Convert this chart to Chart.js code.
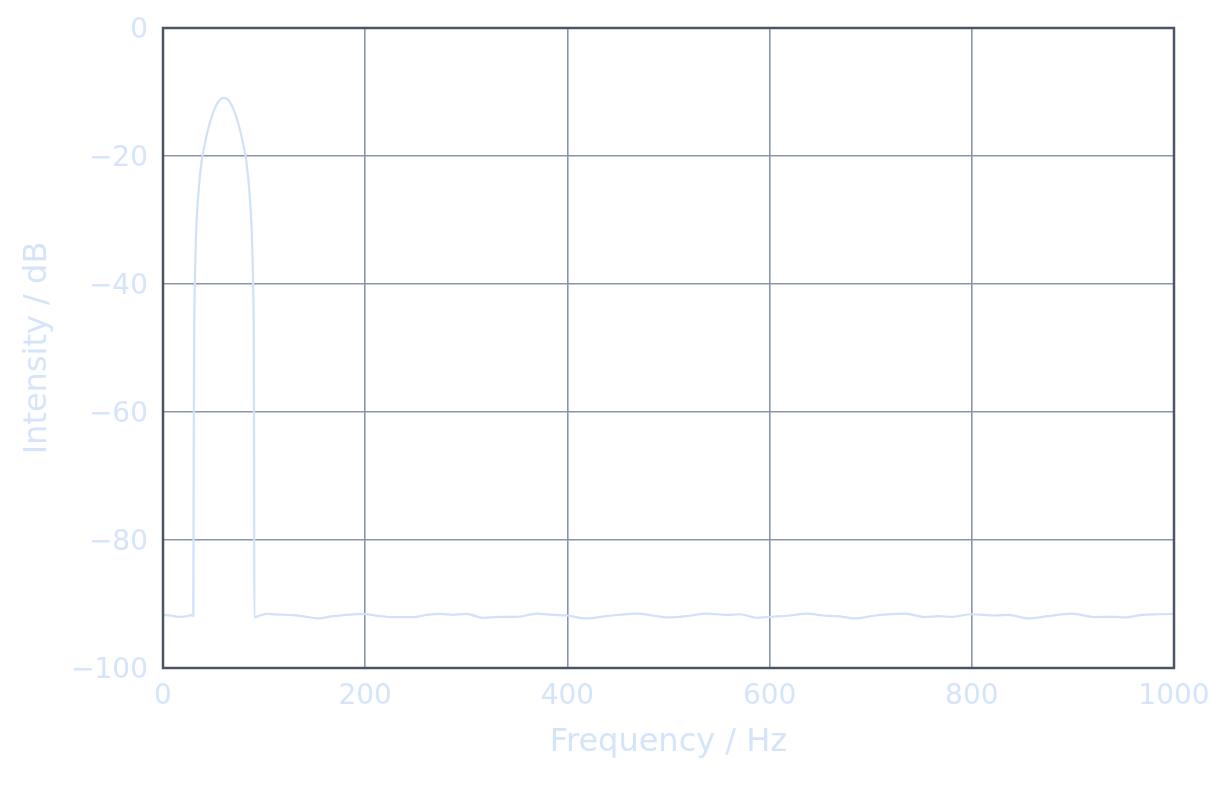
<!DOCTYPE html>
<html>
<head>
<meta charset="utf-8">
<script src="https://cdn.jsdelivr.net/npm/chart.js@4.4.1/dist/chart.umd.min.js"></script>
<style>
  html, body { margin: 0; padding: 0; background: #ffffff; }
  #wrap { width: 1210px; height: 800px; }
</style>
</head>
<body>
<div id="wrap"><canvas id="c" width="1210" height="800"></canvas></div>
<script>
// Frequency (Hz) and intensity (dB)
const freqHz = [
  0, 8, 15, 22, 29.8,
  30.0, 30.4, 30.8, 31.5, 32.8, 34.3, 36.3, 38.3, 40.3, 44.3, 48.3, 52.3, 56.3, 60.3,
  64.3, 68.3, 72.3, 76.3, 80.3, 82.3, 84.3, 86.3, 87.8, 89.1, 89.8, 90.1, 90.3,
  96, 102.5, 115.7, 128.9, 142, 153.6, 168.4, 181.7, 198, 214.6, 227.8,
  247.6, 260.8, 274, 287, 300, 316.6, 333, 349.9, 369.6, 386, 399.3,
  419, 438.9, 468.5, 488.3, 501.5, 518, 537.8, 557.6, 570.7, 587.2,
  600.4, 620.2, 636.7, 653.1, 666.4, 684.5, 704.3, 733.9, 753.7, 766.9,
  780, 799.9, 823, 836, 856, 875.7, 898.8, 921.9, 941.7, 951.5, 968,
  984.4, 1000
];
const intensityDb = [
  -91.7, -91.8, -92.0, -91.95, -91.7,
  -91.9, -65.9, -48.9, -39.9, -31.9, -27.4, -23.4, -20.7, -18.9, -16.0, -13.8, -12.2, -11.2, -10.9,
  -11.2, -12.2, -13.8, -16.0, -18.9, -20.7, -23.4, -27.4, -31.9, -39.9, -48.9, -65.9, -92.1,
  -91.8, -91.55, -91.65, -91.75, -92.0, -92.25, -91.9, -91.7, -91.55, -91.9, -92.05,
  -92.05, -91.7, -91.55, -91.7, -91.55, -92.15, -92.0, -92.0, -91.5, -91.7, -91.8,
  -92.25, -91.9, -91.5, -91.9, -92.1, -91.9, -91.5, -91.7, -91.6, -92.15,
  -92.0, -91.8, -91.5, -91.8, -91.9, -92.25, -91.8, -91.5, -92.05, -91.9,
  -92.0, -91.6, -91.8, -91.7, -92.25, -91.9, -91.5, -92.05, -92.0, -92.1, -91.7,
  -91.6, -91.55
];
const xTickValues = [0, 200, 400, 600, 800, 1000];
const yTickValues = [-100, -80, -60, -40, -20, 0];
const xAxisTitle = 'Frequency / Hz';
const yAxisTitle = 'Intensity / dB';

const textColor = '#d5e4f9';
const lineColor = '#d0e1f9';
const gridColor = '#8a95a6';
const frameColor = '#4b5566';
const fontFamily = "'DejaVu Sans', sans-serif";

const points = freqHz.map((f, i) => ({ x: f, y: intensityDb[i] }));
const fmt = v => (v < 0 ? '\u2212' + Math.abs(v) : String(v));

const framePlugin = {
  id: 'frame',
  afterDatasetsDraw(chart) {
    const { ctx, chartArea: a } = chart;
    ctx.save();
    ctx.strokeStyle = frameColor;
    ctx.lineWidth = 2.5;
    ctx.strokeRect(a.left, a.top, a.right - a.left, a.bottom - a.top);
    ctx.restore();
  }
};

new Chart(document.getElementById('c'), {
  type: 'line',
  data: {
    datasets: [{
      data: points,
      borderColor: lineColor,
      borderWidth: 2.2,
      pointRadius: 0,
      fill: false,
      cubicInterpolationMode: 'monotone'
    }]
  },
  options: {
    responsive: false,
    animation: false,
    devicePixelRatio: 1,
    layout: { padding: { left: 0, right: 36, top: 28, bottom: 0 } },
    plugins: { legend: { display: false }, tooltip: { enabled: false } },
    scales: {
      x: {
        type: 'linear',
        min: 0, max: 1000,
        afterFit(s) { s.height = 132; s.paddingLeft = 0; s.paddingRight = 0; },
        afterBuildTicks(s) { s.ticks = xTickValues.map(v => ({ value: v })); },
        grid: { color: gridColor, lineWidth: 1.6, drawTicks: false },
        border: { display: false },
        ticks: {
          color: textColor, padding: 12,
          font: { family: fontFamily, size: 28 },
          maxRotation: 0,
          callback: v => fmt(v)
        },
        title: {
          display: true, text: xAxisTitle, color: textColor,
          font: { family: fontFamily, size: 32, lineHeight: 1 },
          padding: { top: 0, bottom: 41 }
        }
      },
      y: {
        type: 'linear',
        min: -100, max: 0,
        afterFit(s) { s.width = 163; s.paddingTop = 0; s.paddingBottom = 0; },
        afterBuildTicks(s) { s.ticks = yTickValues.map(v => ({ value: v })); },
        grid: { color: gridColor, lineWidth: 1.6, drawTicks: false },
        border: { display: false },
        ticks: {
          color: textColor, padding: 15, labelOffset: 2.5,
          font: { family: fontFamily, size: 28 },
          callback: v => fmt(v)
        },
        title: {
          display: true, text: yAxisTitle, color: textColor,
          font: { family: fontFamily, size: 32, lineHeight: 1 },
          padding: { top: 21.5, bottom: 0 }
        }
      }
    }
  },
  plugins: [framePlugin]
});
</script>
</body>
</html>
